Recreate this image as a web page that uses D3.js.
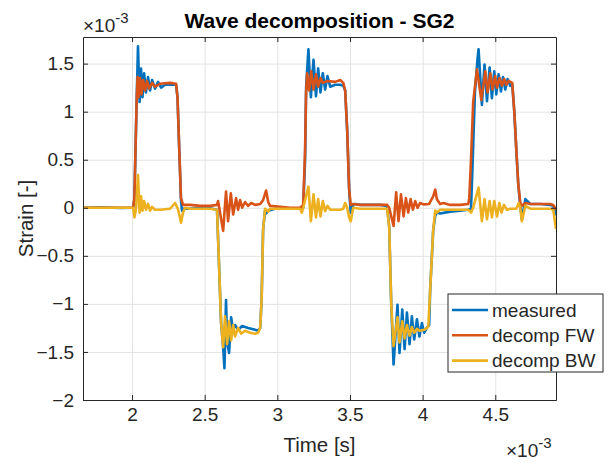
<!DOCTYPE html>
<html>
<head>
<meta charset="utf-8">
<script src="https://cdn.jsdelivr.net/npm/d3@7"></script>
<style>
  body { margin: 0; background: #fff; }
  text { font-family: "Liberation Sans", Arial, Helvetica, sans-serif; fill: #262626; }
</style>
</head>
<body>
<script>
// time in units of 1e-3 s, strain in units of 1e-3
var measuredT = [1.6625, 1.78, 1.917, 2.0, 2.007, 2.016, 2.032, 2.041, 2.052, 2.062, 2.072, 2.083, 2.096, 2.110, 2.124, 2.138, 2.158, 2.179, 2.200, 2.227, 2.262, 2.303, 2.313, 2.324, 2.337, 2.344, 2.351, 2.399, 2.468, 2.537, 2.585, 2.599, 2.613, 2.627, 2.636, 2.647, 2.654, 2.668, 2.682, 2.696, 2.709, 2.730, 2.758, 2.799, 2.847, 2.868, 2.882, 2.892, 2.902, 2.916, 2.923, 2.937, 2.985, 3.088, 3.157, 3.178, 3.191, 3.198, 3.214, 3.231, 3.249, 3.266, 3.281, 3.297, 3.313, 3.329, 3.345, 3.364, 3.398, 3.433, 3.454, 3.467, 3.481, 3.494, 3.505, 3.522, 3.536, 3.570, 3.639, 3.708, 3.756, 3.770, 3.784, 3.800, 3.827, 3.841, 3.860, 3.876, 3.892, 3.910, 3.926, 3.942, 3.961, 3.978, 3.995, 4.011, 4.029, 4.045, 4.052, 4.073, 4.087, 4.098, 4.121, 4.190, 4.259, 4.314, 4.333, 4.345, 4.360, 4.378, 4.385, 4.408, 4.426, 4.443, 4.461, 4.477, 4.493, 4.507, 4.523, 4.539, 4.553, 4.569, 4.585, 4.603, 4.617, 4.631, 4.645, 4.658, 4.672, 4.683, 4.707, 4.741, 4.810, 4.879, 4.899, 4.918];
var measuredV = [0.0, 0.005, -0.003, 0.0, 0.0, 0.08, 1.13, 1.68, 1.10, 1.45, 1.15, 1.40, 1.20, 1.36, 1.22, 1.33, 1.24, 1.31, 1.25, 1.28, 1.28, 1.28, 1.15, 0.65, 0.08, -0.03, -0.01, -0.01, 0.0, -0.005, -0.02, -0.6, -1.2, -1.45, -1.67, -0.96, -1.40, -1.51, -1.14, -1.27, -1.22, -1.27, -1.23, -1.25, -1.27, -1.28, -1.25, -0.95, -0.23, -0.02, -0.06, -0.03, -0.01, -0.01, -0.01, 0.0, 0.5, 1.25, 1.65, 1.15, 1.54, 1.16, 1.45, 1.20, 1.40, 1.23, 1.37, 1.26, 1.28, 1.28, 1.27, 1.22, 0.8, 0.2, -0.05, 0.03, 0.04, 0.03, 0.03, 0.03, 0.02, -0.2, -1.0, -1.63, -1.01, -1.51, -1.06, -1.47, -1.09, -1.42, -1.13, -1.37, -1.16, -1.34, -1.20, -1.30, -1.25, -1.22, -0.85, -0.23, -0.08, -0.05, -0.06, -0.04, -0.03, -0.02, -0.01, 0.5, 1.2, 1.55, 1.65, 1.07, 1.49, 1.11, 1.46, 1.14, 1.42, 1.18, 1.39, 1.21, 1.36, 1.23, 1.34, 1.27, 1.28, 1.0, 0.6, 0.25, 0.02, -0.12, 0.09, 0.04, 0.04, 0.03, 0.02, -0.08];

var fwT = [1.6625, 1.917, 2.007, 2.016, 2.032, 2.038, 2.045, 2.055, 2.065, 2.076, 2.090, 2.103, 2.117, 2.138, 2.158, 2.193, 2.262, 2.303, 2.313, 2.324, 2.337, 2.351, 2.399, 2.468, 2.537, 2.585, 2.592, 2.627, 2.647, 2.661, 2.680, 2.696, 2.716, 2.730, 2.744, 2.758, 2.778, 2.799, 2.820, 2.847, 2.882, 2.902, 2.923, 2.937, 2.950, 3.019, 3.088, 3.157, 3.178, 3.191, 3.198, 3.205, 3.219, 3.233, 3.249, 3.266, 3.281, 3.297, 3.313, 3.345, 3.398, 3.433, 3.454, 3.467, 3.481, 3.494, 3.505, 3.522, 3.570, 3.708, 3.756, 3.770, 3.800, 3.818, 3.834, 3.851, 3.869, 3.885, 3.901, 3.917, 3.933, 3.949, 3.965, 3.983, 4.006, 4.045, 4.073, 4.087, 4.098, 4.121, 4.142, 4.190, 4.259, 4.314, 4.321, 4.333, 4.348, 4.374, 4.404, 4.431, 4.447, 4.466, 4.481, 4.500, 4.512, 4.530, 4.546, 4.562, 4.576, 4.592, 4.617, 4.631, 4.645, 4.658, 4.672, 4.683, 4.707, 4.741, 4.810, 4.879, 4.899, 4.918];
var fwV = [0.0, 0.0, 0.0, 0.1, 1.13, 1.36, 1.15, 1.35, 1.18, 1.33, 1.22, 1.32, 1.24, 1.30, 1.26, 1.29, 1.30, 1.29, 1.15, 0.65, 0.10, 0.03, 0.03, 0.02, 0.02, 0.03, 0.07, -0.24, 0.17, -0.14, 0.15, -0.07, 0.10, -0.02, 0.08, 0.0, 0.06, 0.02, 0.05, 0.03, 0.04, 0.08, 0.18, 0.06, 0.02, 0.01, 0.0, 0.0, 0.03, 0.6, 1.2, 1.40, 1.22, 1.42, 1.23, 1.39, 1.26, 1.35, 1.30, 1.32, 1.31, 1.33, 1.30, 1.22, 0.8, 0.2, 0.03, 0.04, 0.03, 0.03, 0.03, 0.0, -0.19, 0.16, -0.14, 0.14, -0.09, 0.10, -0.05, 0.09, -0.02, 0.07, 0.0, 0.05, 0.035, 0.04, 0.12, 0.19, 0.09, 0.04, 0.05, 0.03, 0.03, 0.04, 0.1, 0.5, 1.1, 1.44, 1.12, 1.42, 1.20, 1.40, 1.23, 1.37, 1.25, 1.35, 1.27, 1.34, 1.28, 1.32, 1.30, 1.0, 0.6, 0.25, 0.05, 0.02, 0.05, 0.04, 0.04, 0.04, 0.03, -0.02];

var bwT = [1.6625, 1.78, 1.917, 2.007, 2.017, 2.028, 2.041, 2.052, 2.062, 2.072, 2.083, 2.096, 2.110, 2.124, 2.138, 2.158, 2.193, 2.262, 2.296, 2.313, 2.330, 2.337, 2.351, 2.365, 2.399, 2.468, 2.537, 2.585, 2.599, 2.613, 2.627, 2.640, 2.654, 2.668, 2.682, 2.696, 2.709, 2.730, 2.751, 2.778, 2.813, 2.847, 2.868, 2.882, 2.892, 2.902, 2.916, 2.937, 2.950, 3.019, 3.088, 3.157, 3.169, 3.178, 3.214, 3.231, 3.249, 3.266, 3.281, 3.297, 3.313, 3.329, 3.345, 3.364, 3.433, 3.454, 3.467, 3.481, 3.494, 3.505, 3.522, 3.570, 3.708, 3.756, 3.770, 3.784, 3.800, 3.827, 3.841, 3.860, 3.876, 3.892, 3.910, 3.926, 3.942, 3.961, 3.978, 4.011, 4.039, 4.052, 4.073, 4.087, 4.098, 4.121, 4.190, 4.259, 4.314, 4.333, 4.348, 4.385, 4.408, 4.426, 4.443, 4.461, 4.477, 4.493, 4.512, 4.528, 4.543, 4.560, 4.580, 4.603, 4.645, 4.661, 4.672, 4.683, 4.707, 4.741, 4.810, 4.879, 4.899, 4.918];
var bwV = [0.0, 0.0, 0.0, 0.0, -0.10, 0.0, 0.34, -0.05, 0.12, -0.03, 0.07, -0.02, 0.04, -0.03, 0.01, -0.02, -0.02, -0.01, 0.05, 0.0, -0.10, -0.155, -0.05, 0.0, -0.01, -0.01, -0.01, -0.02, -0.6, -1.2, -1.45, -1.13, -1.42, -1.18, -1.38, -1.22, -1.34, -1.25, -1.31, -1.28, -1.30, -1.31, -1.30, -1.25, -0.95, -0.23, -0.01, -0.04, -0.01, -0.01, -0.01, -0.01, -0.05, 0.0, 0.22, -0.14, 0.14, -0.10, 0.09, -0.09, 0.07, -0.035, 0.02, -0.02, -0.02, -0.01, 0.05, 0.0, -0.10, -0.14, 0.0, -0.01, -0.01, -0.01, -0.2, -1.0, -1.44, -1.14, -1.40, -1.18, -1.36, -1.22, -1.33, -1.24, -1.30, -1.26, -1.28, -1.27, -1.24, -0.85, -0.23, -0.03, -0.05, -0.02, -0.02, -0.02, -0.02, -0.05, 0.0, 0.21, -0.14, 0.09, -0.12, 0.07, -0.10, 0.07, -0.09, 0.05, -0.05, 0.03, -0.02, -0.01, -0.01, 0.05, 0.0, -0.14, 0.02, -0.01, -0.01, -0.01, -0.02, -0.22];

var seriesNames = ["measured", "decomp FW", "decomp BW"];
var seriesColors = ["#0072BD", "#D95319", "#EDB120"];
var xTicks = [2, 2.5, 3, 3.5, 4, 4.5];
var yTicks = [-2, -1.5, -1, -0.5, 0, 0.5, 1, 1.5];

var W = 609, H = 463;
var margin = { top: 37, right: 53, bottom: 63, left: 83 };
var width = W - margin.left - margin.right,
  height = H - margin.top - margin.bottom;

var x = d3.scaleLinear().domain([1.6625, 4.918]).range([0, width]);
var y = d3.scaleLinear().domain([-2, 1.777]).range([height, 0]);

var svg = d3.select("body").append("svg")
  .attr("width", W)
  .attr("height", H);

var g = svg.append("g")
  .attr("transform", "translate(" + margin.left + "," + margin.top + ")");

g.append("rect").attr("width", width).attr("height", height).attr("fill", "#fff");

// grid
g.append("g")
  .attr("class", "grid")
  .call(d3.axisBottom(x).tickValues(xTicks).tickSize(height).tickFormat(""))
  .call(function(s) { s.select(".domain").remove(); })
  .selectAll("line").attr("stroke", "#e3e3e3");
g.append("g")
  .attr("class", "grid")
  .call(d3.axisLeft(y).tickValues(yTicks).tickSize(-width).tickFormat(""))
  .call(function(s) { s.select(".domain").remove(); })
  .selectAll("line").attr("stroke", "#e3e3e3");

g.append("clipPath").attr("id", "clip")
  .append("rect").attr("width", width).attr("height", height);

var line = d3.line()
  .x(function(d) { return x(d[0]); })
  .y(function(d) { return y(d[1]); });

var series = [
  d3.zip(measuredT, measuredV),
  d3.zip(fwT, fwV),
  d3.zip(bwT, bwV)
];

g.append("g").attr("clip-path", "url(#clip)")
  .selectAll("path")
  .data(series)
  .enter().append("path")
  .attr("d", line)
  .attr("fill", "none")
  .attr("stroke", function(d, i) { return seriesColors[i]; })
  .attr("stroke-width", 2.6)
  .attr("stroke-linejoin", "round");

// axes (box on, ticks inward)
function styleAxis(s) {
  s.selectAll(".domain").attr("stroke", "#262626");
  s.selectAll(".tick line").attr("stroke", "#262626");
  s.selectAll(".tick text").attr("font-size", 19).attr("fill", "#262626")
    .style("font-family", "'Liberation Sans', Arial, sans-serif");
}
g.append("g")
  .attr("transform", "translate(0," + height + ")")
  .call(d3.axisBottom(x).tickValues(xTicks).tickSizeInner(-5).tickSizeOuter(0).tickPadding(8).tickFormat(d3.format("")))
  .call(styleAxis);
g.append("g")
  .call(d3.axisLeft(y).tickValues(yTicks).tickSizeInner(-5).tickSizeOuter(0).tickPadding(9).tickFormat(d3.format("")))
  .call(styleAxis);
g.append("g")
  .call(d3.axisTop(x).tickValues(xTicks).tickSizeInner(-5).tickSizeOuter(0).tickFormat(""))
  .call(styleAxis);
g.append("g")
  .attr("transform", "translate(" + width + ",0)")
  .call(d3.axisRight(y).tickValues(yTicks).tickSizeInner(-5).tickSizeOuter(0).tickFormat(""))
  .call(styleAxis);

// title and labels
svg.append("text")
  .attr("x", margin.left + width / 2).attr("y", 28)
  .attr("text-anchor", "middle")
  .attr("font-size", 21).attr("font-weight", "bold")
  .style("fill", "#000")
  .text("Wave decomposition - SG2");

svg.append("text")
  .attr("x", margin.left + width / 2).attr("y", 452)
  .attr("text-anchor", "middle")
  .attr("font-size", 20.5)
  .text("Time [s]");

svg.append("text")
  .attr("transform", "translate(33," + (margin.top + height / 2) + ") rotate(-90)")
  .attr("text-anchor", "middle")
  .attr("font-size", 20.5)
  .text("Strain [-]");

function expLabel(xp, yp) {
  var t = svg.append("text").attr("x", xp).attr("y", yp).attr("font-size", 19);
  t.append("tspan").text("\u00d710");
  t.append("tspan").attr("dy", -9).attr("font-size", 15).text("-3");
}
expLabel(margin.left, 32);
expLabel(506, 457);

// legend
var leg = svg.append("g").attr("transform", "translate(448,294)");
leg.append("rect")
  .attr("width", 155).attr("height", 78)
  .attr("fill", "#fff").attr("stroke", "#262626").attr("stroke-width", 1);
var item = leg.selectAll(".item")
  .data(seriesNames)
  .enter().append("g")
  .attr("class", "item")
  .attr("transform", function(d, i) { return "translate(0," + (16 + i * 25.3) + ")"; });
item.append("line")
  .attr("x1", 4).attr("x2", 40)
  .attr("stroke", function(d, i) { return seriesColors[i]; })
  .attr("stroke-width", 2.6);
item.append("text")
  .attr("x", 44).attr("dy", "0.35em")
  .attr("font-size", 19)
  .text(function(d) { return d; });
</script>
</body>
</html>
